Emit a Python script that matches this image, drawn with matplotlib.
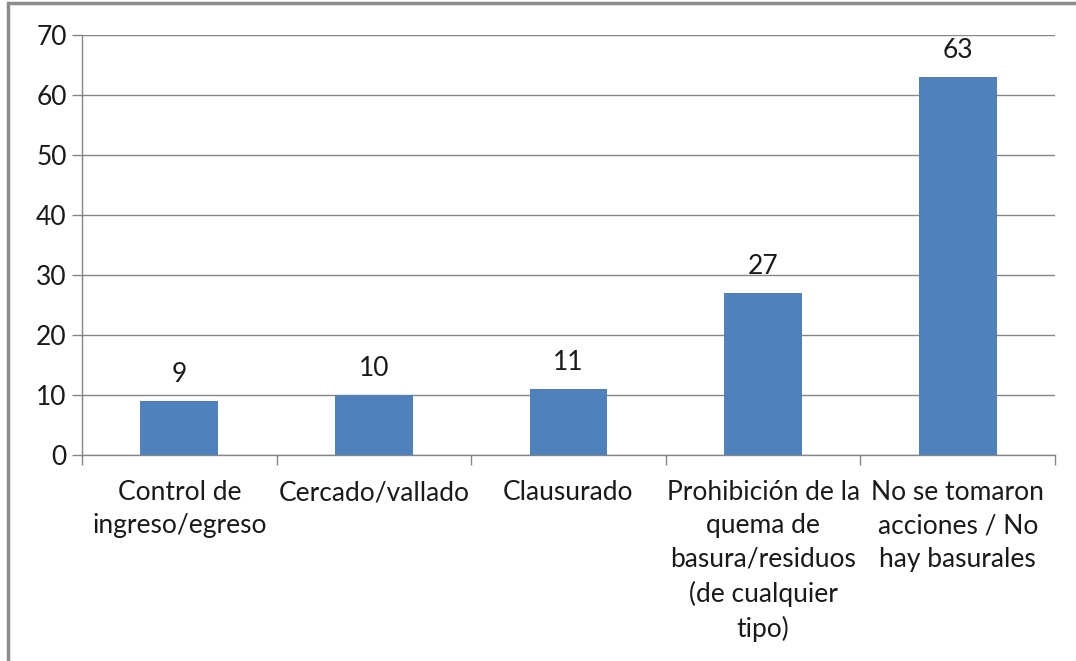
import numpy as np
import matplotlib.pyplot as plt
from matplotlib.patches import Rectangle

categories = ['Control de\ningreso/egreso', 'Cercado/vallado', 'Clausurado',
              'Prohibición de la\nquema de\nbasura/residuos\n(de cualquier\ntipo)',
              'No se tomaron\nacciones / No\nhay basurales']
values = [9, 10, 11, 27, 63]
yticks = [0, 10, 20, 30, 40, 50, 60, 70]

plt.rcParams['font.family'] = ['Lato', 'DejaVu Sans']
grey = '#868686'
fs = 19

fig = plt.figure(figsize=(10.76, 6.61), dpi=100)
ax = fig.add_axes([82 / 1076, 1 - 455 / 661, (1055 - 82) / 1076, (455 - 35) / 661])

# outer frame of the chart area (runs past the right/bottom edge)
fig.patches.append(Rectangle((8 / 1076, -0.1), 1.2, 1 - 3 / 661 + 0.1,
                             transform=fig.transFigure, fill=False,
                             edgecolor='#8c8c8c', linewidth=2.5))

x = np.arange(len(values))
ax.bar(x, values, width=0.4, color='#4F81BD', zorder=3)
for xi, v in zip(x, values):
    ax.annotate(str(v), (xi, v), xytext=(0, 10), textcoords='offset points',
                ha='center', va='bottom', fontsize=fs, color='#1a1a1a')

ax.set_xlim(-0.5, len(values) - 0.5)
ax.set_ylim(0, 70)
ax.set_yticks(yticks)
ax.set_yticklabels([str(t) for t in yticks], fontsize=fs, color='#1a1a1a')
ax.yaxis.grid(True, color=grey, linewidth=1, zorder=0)

# category labels between boundary ticks
ax.set_xticks(np.arange(len(values) + 1) - 0.5)
ax.set_xticklabels([])
ax.set_xticks(x, minor=True)
ax.set_xticklabels(categories, minor=True, fontsize=fs, color='#1a1a1a', linespacing=1.42)
ax.tick_params(axis='x', which='minor', length=0, pad=18)
ax.tick_params(axis='x', which='major', length=7, color=grey, width=1)
ax.tick_params(axis='y', length=7, color=grey, width=1, pad=4)

for side in ['top', 'right']:
    ax.spines[side].set_visible(False)
for side in ['left', 'bottom']:
    ax.spines[side].set_color(grey)
    ax.spines[side].set_linewidth(1)

fig.savefig('out.png', dpi=100)
